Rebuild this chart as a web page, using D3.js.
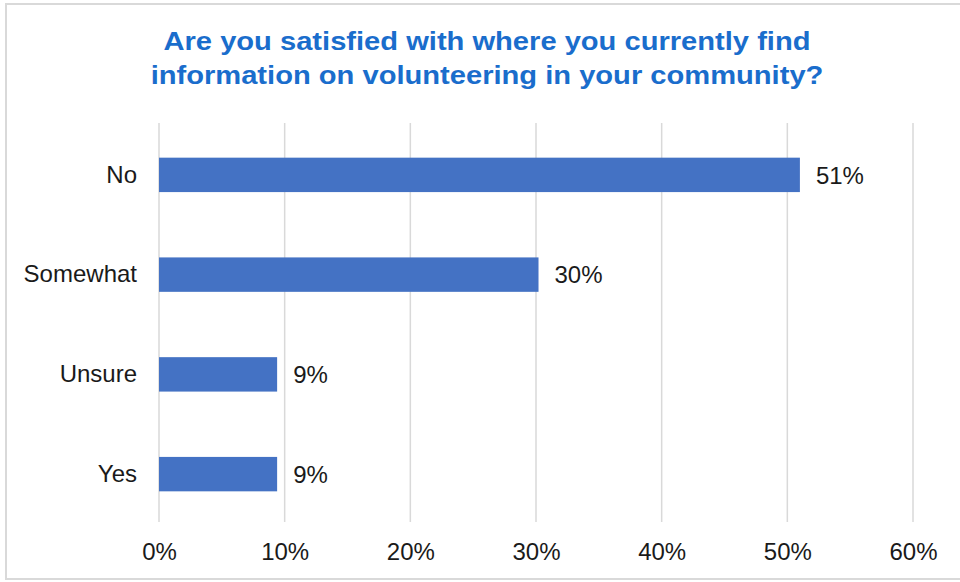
<!DOCTYPE html>
<html>
<head>
<meta charset="utf-8">
<script src="https://cdn.jsdelivr.net/npm/d3@7/dist/d3.min.js"></script>
<style>
  html, body { margin: 0; padding: 0; background: #fff; }
  svg { display: block; font-family: "Liberation Sans", Arial, sans-serif; }
</style>
</head>
<body>
<svg id="chart" width="960" height="582"></svg>
<script>
// Survey responses (share of respondents, %)
const categories = ["No", "Somewhat", "Unsure", "Yes"];
const values = [51.0, 30.2, 9.4, 9.4];
const tickValues = [0, 10, 20, 30, 40, 50, 60];
const titleLines = [
  "Are you satisfied with where you currently find",
  "information on volunteering in your community?"
];

const svg = d3.select("#chart");
const W = 960, H = 582;
const labelSize = 24;
const textColor = "#1a1a1a";

// Outer frame
svg.append("rect")
  .attr("x", 6).attr("y", 4)
  .attr("width", W + 10).attr("height", 575)
  .attr("fill", "#fff")
  .attr("stroke", "#d9d9d9")
  .attr("stroke-width", 2);

// Title (slightly widened lettering)
const titleCx = 487;
svg.append("g")
  .attr("transform", `translate(${titleCx},0) scale(1.165,1)`)
  .append("text")
  .attr("text-anchor", "middle")
  .attr("fill", "#1a6dcc")
  .attr("font-size", 25)
  .attr("font-weight", "bold")
  .selectAll("tspan")
  .data(titleLines)
  .join("tspan")
  .attr("x", 0)
  .attr("y", (d, i) => 50 + i * 34.5)
  .text(d => d);

const plot = { left: 159, right: 913, top: 123, bottom: 522 };

const x = d3.scaleLinear().domain([0, 60]).range([plot.left, plot.right]);
const y = d3.scaleBand()
  .domain(categories)
  .range([plot.top + 2, plot.bottom + 2])
  .paddingInner(0.655)
  .paddingOuter(0.3275);

// Vertical gridlines
svg.append("g")
  .selectAll("line")
  .data(tickValues)
  .join("line")
  .attr("x1", d => x(d)).attr("x2", d => x(d))
  .attr("y1", plot.top).attr("y2", plot.bottom)
  .attr("stroke", "#d9d9d9")
  .attr("stroke-width", 1.5);

// Bottom axis labels
const xAxis = d3.axisBottom(x)
  .tickValues(tickValues)
  .tickFormat(d => d + "%")
  .tickSize(0)
  .tickPadding(0);
const gx = svg.append("g")
  .attr("transform", `translate(0,${plot.bottom})`)
  .call(xAxis);
gx.select(".domain").remove();
gx.selectAll("text")
  .attr("font-family", "Liberation Sans, Arial, sans-serif")
  .attr("font-size", labelSize)
  .attr("fill", textColor)
  .attr("dy", 0)
  .attr("y", 38);

// Category labels
const yAxis = d3.axisLeft(y).tickSize(0).tickPadding(22);
const gy = svg.append("g")
  .attr("transform", `translate(${plot.left},0)`)
  .call(yAxis);
gy.select(".domain").remove();
gy.selectAll("text")
  .attr("font-family", "Liberation Sans, Arial, sans-serif")
  .attr("font-size", labelSize)
  .attr("fill", textColor);

const rows = categories.map((c, i) => ({ c, v: values[i] }));

// Bars
svg.append("g")
  .selectAll("rect")
  .data(rows)
  .join("rect")
  .attr("x", x(0))
  .attr("y", d => y(d.c))
  .attr("width", d => x(d.v) - x(0))
  .attr("height", y.bandwidth())
  .attr("fill", "#4472c4");

// Value labels
svg.append("g")
  .selectAll("text")
  .data(rows)
  .join("text")
  .attr("x", d => x(d.v) + 16)
  .attr("y", d => y(d.c) + y.bandwidth() / 2)
  .attr("dy", "0.36em")
  .attr("font-size", labelSize)
  .attr("fill", textColor)
  .text(d => Math.round(d.v) + "%");
</script>
</body>
</html>
